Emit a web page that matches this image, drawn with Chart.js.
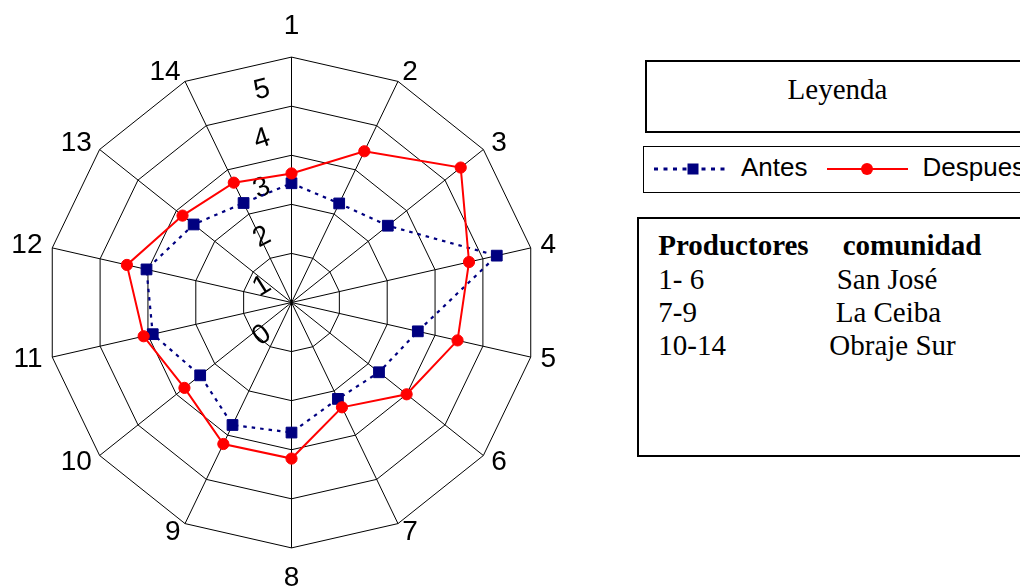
<!DOCTYPE html>
<html><head><meta charset="utf-8">
<script src="https://cdn.jsdelivr.net/npm/chart.js@4.4.1/dist/chart.umd.min.js"></script>
<style>
html,body{margin:0;padding:0;width:1020px;height:588px;overflow:hidden;background:#fff;}
#wrap{position:absolute;left:0;top:0;width:600px;height:600px;}
.box{position:absolute;box-sizing:border-box;background:#fff;}
.serif{font-family:"Liberation Serif","Times New Roman",serif;font-size:29px;line-height:33.3px;color:#000;position:absolute;white-space:pre;}
.sans{font-family:"Liberation Sans",Arial,sans-serif;font-size:26px;line-height:26px;color:#000;position:absolute;white-space:pre;}
</style></head><body>
<div id="wrap"><canvas id="c" width="600" height="600"></canvas></div>

<div class="box" style="left:645px;top:60px;width:420px;height:73px;border:2px solid #000;"></div>
<div class="serif" style="left:637.5px;width:400px;text-align:center;top:72.5px;">Leyenda</div>

<div class="box" style="left:643px;top:146px;width:420px;height:47px;border:1px solid #000;"></div>
<div id="legendItems"></div>

<div class="box" style="left:637px;top:217px;width:420px;height:240px;border:2px solid #000;"></div>
<div id="tableText"></div>

<script>
// ---- data ----
const categories = ['1','2','3','4','5','6','7','8','9','10','11','12','13','14'];
const antes   = [2.43, 2.24, 2.51, 4.29, 2.64, 2.28, 2.18, 2.65, 2.77, 2.38, 2.90, 3.03, 2.55, 2.25];
const despues = [2.63, 3.42, 4.41, 3.71, 3.47, 3.00, 2.37, 3.18, 3.20, 2.79, 3.09, 3.44, 2.84, 2.71];
const tickLabels = ['0','1','2','3','4','5'];
const seriesNames = ['Antes','Despues'];
const tableHeader = ['Productores','comunidad'];
const tableRows = [['1- 6','San José'],['7-9','La Ceiba'],['10-14','Obraje Sur']];

const NAVY = '#000080', RED = '#ff0000';

const halfPx = {
  id:'halfPx',
  beforeDraw(c){ c.ctx.save(); c.ctx.translate(0.5,0.5); },
  afterDraw(c){ c.ctx.restore(); }
};

const tickLabelPlugin = {
  id:'tickLabelsRot',
  beforeDatasetsDraw(chart){
    const s = chart.scales.r, ctx = chart.ctx;
    ctx.save();
    ctx.font = '28px "Liberation Sans", Arial, sans-serif';
    ctx.fillStyle = '#000';
    ctx.textAlign = 'center';
    ctx.textBaseline = 'middle';
    s.ticks.forEach(t => {
      const d = s.getDistanceFromCenterForValue(t.value);
      const x = s.xCenter - 29.5, y = s.yCenter - d + 33;
      const rot = -(14 + (5 - t.value) * 4.5) * Math.PI / 180;
      ctx.save();
      ctx.translate(x, y);
      ctx.rotate(rot);
      ctx.fillText(t.label, 0, 0);
      ctx.restore();
    });
    ctx.restore();
  }
};

const chart = new Chart(document.getElementById('c'), {
  type:'radar',
  data:{
    labels: categories,
    datasets:[
      { label: seriesNames[0], data: antes, borderColor: NAVY, backgroundColor: NAVY,
        borderWidth: 2.2, borderDash:[3.5,5], fill:false, tension:0,
        pointStyle:'rect', pointRadius:7.6, pointHoverRadius:7.6, pointBorderWidth:1,
        pointBackgroundColor: NAVY, pointBorderColor: NAVY, order:2 },
      { label: seriesNames[1], data: despues, borderColor: RED, backgroundColor: RED,
        borderWidth: 2, fill:false, tension:0,
        pointStyle:'circle', pointRadius:5.6, pointHoverRadius:5.6, pointBorderWidth:1,
        pointBackgroundColor: RED, pointBorderColor: RED, order:1 }
    ]
  },
  options:{
    responsive:false,
    maintainAspectRatio:false,
    animation:false,
    layout:{padding:0},
    plugins:{ legend:{display:false}, tooltip:{enabled:false} },
    scales:{
      r:{
        min:0, max:5,
        ticks:{ stepSize:1, display:false, callback:(v)=>tickLabels[v] },
        grid:{ color:'#000', lineWidth:1 },
        angleLines:{ color:'#000', lineWidth:1 },
        pointLabels:{
          color:'#000',
          padding:(ctx)=> (ctx.index===0 || ctx.index===7) ? 14 : 10,
          font:(ctx)=>({ family:'"Liberation Sans", Arial, sans-serif', size:28,
                         lineHeight:(ctx.index===0 || ctx.index===7) ? 1.2 : 0.01 })
        }
      }
    }
  },
  plugins:[halfPx, tickLabelPlugin]
});

// fit scale to the target geometry
const wrap = document.getElementById('wrap');
const targetR = 246, targetX = 291, targetY = 302;
let S = 600;
for (let i = 0; i < 5; i++) {
  const R = chart.scales.r.drawingArea;
  S = Math.round(S + 2 * (targetR - R));
  wrap.style.width = S + 'px'; wrap.style.height = S + 'px';
  chart.resize(S, S);
}
const sc = chart.scales.r;
wrap.style.left = (targetX - sc.xCenter) + 'px';
wrap.style.top = (targetY - sc.yCenter) + 'px';

// legend from datasets
(function(){
  const host = document.getElementById('legendItems');
  const ds = chart.data.datasets;
  const svgNS = 'http://www.w3.org/2000/svg';
  function sample(left, d){
    const svg = document.createElementNS(svgNS,'svg');
    svg.setAttribute('width','90'); svg.setAttribute('height','24');
    svg.style.position='absolute'; svg.style.left=left+'px'; svg.style.top='157px';
    const ln = document.createElementNS(svgNS,'line');
    ln.setAttribute('y1','12'); ln.setAttribute('y2','12');
    ln.setAttribute('stroke', d.borderColor);
    if (d.borderDash) {
      ln.setAttribute('x1','4'); ln.setAttribute('x2','80');
      ln.setAttribute('stroke-width','3'); ln.setAttribute('stroke-dasharray','4 5.5');
    } else {
      ln.setAttribute('x1','7'); ln.setAttribute('x2','88');
      ln.setAttribute('stroke-width','2');
    }
    svg.appendChild(ln);
    if (d.pointStyle === 'rect') {
      const r = document.createElementNS(svgNS,'rect');
      r.setAttribute('x','37.5'); r.setAttribute('y','6.5'); r.setAttribute('width','11'); r.setAttribute('height','11');
      r.setAttribute('fill', d.pointBackgroundColor);
      svg.appendChild(r);
    } else {
      const c = document.createElementNS(svgNS,'circle');
      c.setAttribute('cx','47'); c.setAttribute('cy','12'); c.setAttribute('r','6');
      c.setAttribute('fill', d.pointBackgroundColor);
      svg.appendChild(c);
    }
    host.appendChild(svg);
  }
  function label(left, text){
    const el = document.createElement('div');
    el.className='sans'; el.textContent=text;
    el.style.left=left+'px'; el.style.top='154px';
    host.appendChild(el);
  }
  sample(650, ds[0]); label(741, ds[0].label);
  sample(820, ds[1]); label(922.5, ds[1].label);
})();

// table text
(function(){
  const host = document.getElementById('tableText');
  const col2 = [842.7, 836.7, 835.7, 829.3];
  const rows = [tableHeader].concat(tableRows);
  rows.forEach((r, i) => {
    const top = 229.3 + i * 33.3;
    [[658.3, r[0]], [col2[i], r[1]]].forEach(([x, t]) => {
      const el = document.createElement('div');
      el.className='serif'; el.textContent=t;
      el.style.left=x+'px'; el.style.top=top+'px';
      if (i===0) el.style.fontWeight='bold';
      host.appendChild(el);
    });
  });
})();
</script>
</body></html>
